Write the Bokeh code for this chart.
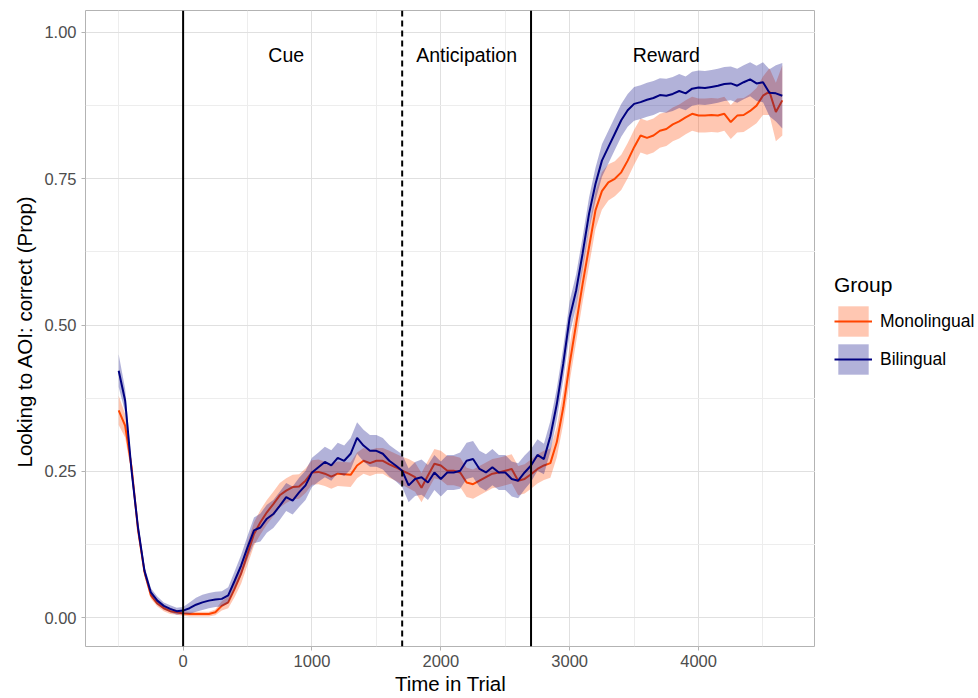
import numpy as np
from bokeh.plotting import figure
from bokeh.layouts import row
from bokeh.models import (Range1d, FixedTicker, Span, Legend, LegendItem,
                          ColumnDataSource, NumeralTickFormatter)
from bokeh.core.properties import value
from bokeh.embed import file_html
from bokeh.resources import INLINE

# ---------------- data ----------------
time_ms = list(range(-500, 4700, 50))

mono_mean = [0.354, 0.328, 0.257, 0.150, 0.078, 0.038, 0.024, 0.016, 0.011, 0.009,
             0.007, 0.006, 0.006, 0.006, 0.006, 0.009, 0.020, 0.026, 0.049, 0.075,
             0.109, 0.143, 0.163, 0.180, 0.194, 0.209, 0.217, 0.223, 0.224, 0.234,
             0.248, 0.249, 0.246, 0.241, 0.246, 0.245, 0.244, 0.260, 0.268, 0.264,
             0.268, 0.268, 0.262, 0.257, 0.251, 0.246, 0.240, 0.222, 0.243, 0.263,
             0.260, 0.251, 0.251, 0.248, 0.231, 0.228, 0.234, 0.240, 0.246, 0.248,
             0.251, 0.254, 0.234, 0.237, 0.245, 0.254, 0.260, 0.264, 0.300, 0.359,
             0.434, 0.502, 0.570, 0.633, 0.696, 0.729, 0.744, 0.750, 0.761, 0.781,
             0.804, 0.824, 0.820, 0.824, 0.832, 0.835, 0.843, 0.848, 0.855, 0.861,
             0.858, 0.858, 0.859, 0.858, 0.861, 0.847, 0.858, 0.859, 0.866, 0.875,
             0.892, 0.899, 0.864, 0.884]
mono_se = [0.025, 0.020, 0.012, 0.009, 0.007, 0.006, 0.005, 0.005, 0.005, 0.004,
           0.004, 0.004, 0.004, 0.004, 0.004, 0.005, 0.008, 0.010, 0.014, 0.017,
           0.019, 0.020, 0.021, 0.021, 0.021, 0.021, 0.021, 0.021, 0.021, 0.021,
           0.021, 0.021, 0.021, 0.021, 0.021, 0.021, 0.021, 0.022, 0.022, 0.022,
           0.022, 0.022, 0.023, 0.023, 0.024, 0.025, 0.025, 0.025, 0.025, 0.025,
           0.025, 0.025, 0.025, 0.025, 0.025, 0.025, 0.025, 0.025, 0.025, 0.025,
           0.025, 0.025, 0.025, 0.025, 0.025, 0.025, 0.025, 0.025, 0.026, 0.028,
           0.030, 0.031, 0.031, 0.032, 0.032, 0.032, 0.031, 0.030, 0.030, 0.030,
           0.030, 0.029, 0.029, 0.029, 0.029, 0.029, 0.029, 0.029, 0.029, 0.029,
           0.029, 0.029, 0.029, 0.029, 0.029, 0.029, 0.029, 0.029, 0.029, 0.030,
           0.033, 0.040, 0.050, 0.060]

bi_mean = [0.422, 0.371, 0.251, 0.154, 0.080, 0.043, 0.029, 0.020, 0.015, 0.011,
           0.012, 0.016, 0.022, 0.026, 0.029, 0.031, 0.032, 0.038, 0.063, 0.089,
           0.120, 0.149, 0.154, 0.169, 0.177, 0.191, 0.206, 0.200, 0.214, 0.226,
           0.248, 0.257, 0.266, 0.260, 0.273, 0.268, 0.280, 0.307, 0.294, 0.285,
           0.285, 0.280, 0.268, 0.260, 0.251, 0.226, 0.237, 0.240, 0.231, 0.248,
           0.237, 0.248, 0.248, 0.251, 0.268, 0.271, 0.254, 0.248, 0.257, 0.248,
           0.248, 0.237, 0.234, 0.248, 0.260, 0.278, 0.271, 0.310, 0.365, 0.434,
           0.513, 0.559, 0.622, 0.690, 0.741, 0.781, 0.804, 0.827, 0.850, 0.867,
           0.878, 0.881, 0.885, 0.888, 0.893, 0.892, 0.895, 0.900, 0.896, 0.904,
           0.906, 0.905, 0.907, 0.909, 0.912, 0.913, 0.909, 0.915, 0.920, 0.913,
           0.915, 0.897, 0.896, 0.892]
bi_se = [0.028, 0.020, 0.012, 0.010, 0.008, 0.007, 0.007, 0.006, 0.006, 0.006,
         0.006, 0.010, 0.012, 0.013, 0.013, 0.013, 0.013, 0.014, 0.016, 0.018,
         0.020, 0.022, 0.024, 0.024, 0.024, 0.024, 0.024, 0.024, 0.025, 0.025,
         0.025, 0.025, 0.026, 0.026, 0.026, 0.026, 0.027, 0.027, 0.027, 0.027,
         0.027, 0.027, 0.027, 0.027, 0.028, 0.029, 0.029, 0.030, 0.030, 0.030,
         0.030, 0.030, 0.030, 0.031, 0.031, 0.031, 0.031, 0.031, 0.031, 0.030,
         0.030, 0.030, 0.030, 0.029, 0.028, 0.027, 0.026, 0.026, 0.027, 0.028,
         0.028, 0.028, 0.028, 0.028, 0.028, 0.028, 0.028, 0.028, 0.028, 0.028,
         0.029, 0.029, 0.029, 0.029, 0.029, 0.029, 0.029, 0.029, 0.029, 0.029,
         0.029, 0.029, 0.029, 0.029, 0.029, 0.029, 0.029, 0.029, 0.029, 0.030,
         0.034, 0.040, 0.048, 0.056]

groups = ["Monolingual", "Bilingual"]
group_line = ["orangered", "navy"]
group_fill = ["orangered", "navy"]
event_times = [0, 1700, 2700]
event_dash = ["solid", "6 4", "solid"]
phase_labels = ["Cue", "Anticipation", "Reward"]
phase_x = [800, 2200, 3750]
phase_y = [0.962, 0.962, 0.962]
x_ticks = [0, 1000, 2000, 3000, 4000]
x_minor = [-500, 500, 1500, 2500, 3500, 4500]
y_ticks = [0.0, 0.25, 0.5, 0.75, 1.0]
y_minor = [0.125, 0.375, 0.625, 0.875]

FONT = "Liberation Sans"
FILL_ALPHA = 0.3

# ---------------- main figure ----------------
p = figure(width=815, height=698, output_backend="svg", toolbar_location=None,
           x_range=Range1d(-757.5, 4907.5), y_range=Range1d(-0.0494, 1.0376),
           min_border_left=85, min_border_right=0, min_border_top=10,
           min_border_bottom=52)
p.background_fill_color = "white"
p.border_fill_color = "white"
p.outline_line_color = "#B3B3B3"
p.outline_line_width = 1

p.xaxis.ticker = FixedTicker(ticks=x_ticks, minor_ticks=x_minor)
p.yaxis.ticker = FixedTicker(ticks=y_ticks, minor_ticks=y_minor)
p.yaxis.formatter = NumeralTickFormatter(format="0.00")
p.xaxis.formatter = NumeralTickFormatter(format="0")

for g in (p.xgrid, p.ygrid):
    g.grid_line_color = "#E0E0E0"
    g.grid_line_width = 1
    g.minor_grid_line_color = "#EDEDED"
    g.minor_grid_line_width = 1

for ax in (p.xaxis, p.yaxis):
    ax.axis_line_color = None
    ax.major_tick_line_color = "#B3B3B3"
    ax.major_tick_in = 0
    ax.major_tick_out = 4
    ax.minor_tick_line_color = None
    ax.major_label_text_color = "#4D4D4D"
    ax.major_label_text_font = FONT
    ax.major_label_text_font_size = "16.5px"
    ax.axis_label_text_font = FONT
    ax.axis_label_text_font_size = "20.5px"
    ax.axis_label_text_font_style = "normal"
    ax.axis_label_text_color = "black"

p.xaxis.axis_label = "Time in Trial"
p.yaxis.axis_label = "Looking to AOI:  correct (Prop)"
p.xaxis.major_label_standoff = 4
p.xaxis.axis_label_standoff = 2
p.yaxis.major_label_standoff = 5
p.yaxis.axis_label_standoff = 5

t = np.array(time_ms, dtype=float)
mm, ms = np.array(mono_mean), np.array(mono_se)
bm, bs = np.array(bi_mean), np.array(bi_se)

src_m = ColumnDataSource(dict(x=t, y=mm, lo=mm - ms, hi=mm + ms))
src_b = ColumnDataSource(dict(x=t, y=bm, lo=bm - bs, hi=bm + bs))
sources = [src_m, src_b]

for src, lc, fc in zip(sources, group_line, group_fill):
    p.varea(x="x", y1="lo", y2="hi", source=src, fill_color=fc, fill_alpha=FILL_ALPHA)
    p.line(x="x", y="y", source=src, line_color=lc, line_width=2)

for loc, dash in zip(event_times, event_dash):
    p.add_layout(Span(location=loc, dimension="height", line_color="black",
                      line_width=2, line_dash=dash))

p.text(x=phase_x, y=phase_y, text=phase_labels, text_font=value(FONT),
       text_font_size="19.5px", text_align="center", text_baseline="middle",
       text_color="black")

# ---------------- legend panel (ggplot-style guide on the right) ----------------
# the same series are attached here only to provide the legend keys; the
# panel's x range lies beyond the data so nothing but the legend shows.
lg = figure(width=163, height=698, output_backend="svg", toolbar_location=None,
            x_range=Range1d(6000, 6001), y_range=Range1d(0, 1),
            min_border_left=0, min_border_right=0, min_border_top=10,
            min_border_bottom=52, outline_line_color=None)
lg.axis.visible = False
lg.grid.visible = False
lg.background_fill_color = "white"
lg.border_fill_color = "white"

items = []
for name, src, lc, fc in zip(groups, sources, group_line, group_fill):
    rb = lg.varea(x="x", y1="lo", y2="hi", source=src, fill_color=fc,
                  fill_alpha=FILL_ALPHA)
    rl = lg.line(x="x", y="y", source=src, line_color=lc, line_width=2)
    items.append(LegendItem(label=name, renderers=[rb, rl]))

legend = Legend(items=items, title="Group", location=(19, 268),
                orientation="vertical", padding=0, margin=0, spacing=-4,
                glyph_width=38, glyph_height=38, label_standoff=8,
                border_line_color=None, background_fill_alpha=0,
                label_text_font=FONT, label_text_font_size="17.5px",
                label_text_color="black",
                title_text_font=FONT, title_text_font_size="21px",
                title_text_color="black",
                title_text_font_style="normal", title_standoff=5)
lg.add_layout(legend, "center")

layout = row(p, lg, spacing=0)
open("out.html", "w").write(file_html(layout, INLINE))
